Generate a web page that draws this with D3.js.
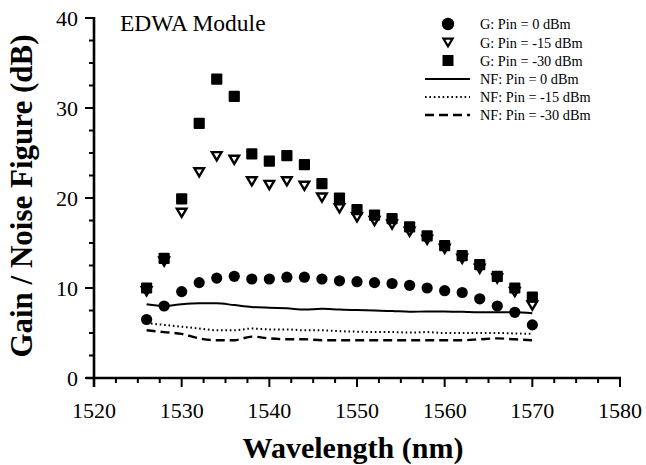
<!DOCTYPE html>
<html><head><meta charset="utf-8">
<script src="https://cdn.jsdelivr.net/npm/d3@7"></script>
<style>body{margin:0;background:#fff}svg{display:block}text{font-family:"Liberation Serif","Times New Roman",serif;fill:#000}</style>
</head><body>
<svg id="c" width="646" height="465"></svg>
<script>
const wavelengths = [1526,1528,1530,1532,1534,1536,1538,1540,1542,1544,1546,1548,1550,1552,1554,1556,1558,1560,1562,1564,1566,1568,1570];
const gain0   = [6.5,8.0,9.6,10.6,11.1,11.3,11.0,11.0,11.2,11.2,11.0,10.8,10.7,10.6,10.5,10.3,10.0,9.7,9.5,8.8,8.0,7.3,5.9];
const gain15  = [9.7,13.0,18.4,22.9,24.7,24.3,21.9,21.5,21.9,21.4,20.1,18.9,17.9,17.5,17.1,16.3,15.4,14.4,13.3,12.2,11.1,9.6,8.1];
const gain30  = [10.0,13.3,19.9,28.3,33.2,31.3,24.9,24.1,24.7,23.7,21.6,20.0,18.7,18.1,17.7,16.8,15.8,14.7,13.6,12.6,11.3,10.0,9.0];
const nf0     = [8.2,8.0,8.2,8.3,8.3,8.1,7.9,7.8,7.75,7.6,7.7,7.6,7.55,7.5,7.45,7.35,7.4,7.4,7.35,7.3,7.3,7.3,7.2];
const nf15    = [6.1,5.9,5.7,5.5,5.3,5.3,5.5,5.4,5.4,5.3,5.3,5.2,5.15,5.1,5.1,5.05,5.1,5.0,5.0,5.0,5.0,4.95,4.9];
const nf30    = [5.3,5.1,4.9,4.4,4.2,4.2,4.6,4.4,4.3,4.3,4.2,4.2,4.2,4.2,4.2,4.2,4.2,4.2,4.2,4.3,4.4,4.3,4.2];
const xTicks = [1520,1530,1540,1550,1560,1570,1580];
const yTicks = [0,10,20,30,40];
const legendLabels = ["G: Pin = 0 dBm","G: Pin = -15 dBm","G: Pin = -30 dBm","NF: Pin = 0 dBm","NF: Pin = -15 dBm","NF: Pin = -30 dBm"];

const svg = d3.select("#c");
const x = d3.scaleLinear().domain([1520,1580]).range([94,620]);
const y = d3.scaleLinear().domain([0,40]).range([378,18]);

// noise-figure lines
const line = d3.line().x((d,i)=>x(wavelengths[i])).y(d=>y(d)).curve(d3.curveMonotoneX);
svg.append("path").datum(nf0).attr("d",line).attr("fill","none").attr("stroke","#000").attr("stroke-width",2);
svg.append("path").datum(nf15).attr("d",line).attr("fill","none").attr("stroke","#000").attr("stroke-width",2).attr("stroke-dasharray","1.6,2.8");
svg.append("path").datum(nf30).attr("d",line).attr("fill","none").attr("stroke","#000").attr("stroke-width",2.4).attr("stroke-dasharray","9,5");

// gain markers
const tri = (cx,cy,s)=>`M${cx-s},${cy-s*0.75}L${cx+s},${cy-s*0.75}L${cx},${cy+s*0.95}Z`;
svg.append("g").selectAll("circle").data(gain0).join("circle")
  .attr("cx",(d,i)=>x(wavelengths[i])).attr("cy",d=>y(d)).attr("r",5.6).attr("fill","#000");
svg.append("g").selectAll("path").data(gain15).join("path")
  .attr("d",(d,i)=>tri(x(wavelengths[i]),y(d),4.8)).attr("fill","#fff").attr("stroke","#000").attr("stroke-width",2.4);
svg.append("g").selectAll("rect").data(gain30).join("rect")
  .attr("x",(d,i)=>x(wavelengths[i])-5.6).attr("y",d=>y(d)-5.6).attr("width",11.2).attr("height",11.2).attr("rx",1).attr("fill","#000");

// x axis
const ax = svg.append("g").attr("transform","translate(0,378)");
const minorX = d3.range(1520,1580.1,2.5);
ax.selectAll("line.t").data(minorX).join("line").attr("class","t").attr("x1",d=>x(d)).attr("x2",d=>x(d)).attr("y1",0)
  .attr("y2",d=>d%10===0?9:5).attr("stroke","#000").attr("stroke-width",2);
ax.append("line").attr("x1",86).attr("x2",621).attr("y1",0).attr("y2",0).attr("stroke","#000").attr("stroke-width",2.6);
ax.selectAll("text").data(xTicks).join("text").attr("x",d=>x(d)).attr("y",40).attr("text-anchor","middle")
  .attr("font-size",22).text(d=>d);

// y axis
const ay = svg.append("g");
const minorY = d3.range(0,40.1,2.5);
ay.selectAll("line.t").data(minorY).join("line").attr("class","t").attr("y1",d=>y(d)).attr("y2",d=>y(d)).attr("x2",94)
  .attr("x1",d=>d%10===0?85:89).attr("stroke","#000").attr("stroke-width",2);
ay.append("line").attr("x1",94).attr("x2",94).attr("y1",17).attr("y2",387).attr("stroke","#000").attr("stroke-width",2.6);
ay.selectAll("text").data(yTicks).join("text").attr("x",78).attr("y",d=>y(d)+7.5).attr("text-anchor","end")
  .attr("font-size",22).text(d=>d);

// titles
svg.append("text").attr("x",353).attr("y",458).attr("text-anchor","middle").attr("font-size",30).attr("font-weight","bold").text("Wavelength (nm)");
svg.append("text").attr("transform","translate(32,196) rotate(-90)").attr("text-anchor","middle").attr("font-size",31).attr("font-weight","bold").text("Gain / Noise Figure (dB)");
svg.append("text").attr("x",120).attr("y",31).attr("font-size",23.5).text("EDWA Module");

// legend
const lg = svg.append("g");
const rows = [24,42.5,60.5,79,97,115];
legendLabels.forEach((t,i)=>{
  lg.append("text").attr("x",480).attr("y",rows[i]+5).attr("font-size",14.3).text(t);
});
lg.append("circle").attr("cx",448).attr("cy",rows[0]).attr("r",6.2).attr("fill","#000");
lg.append("path").attr("d",tri(448,rows[1]-0.5,4.6)).attr("fill","#fff").attr("stroke","#000").attr("stroke-width",2.2);
lg.append("rect").attr("x",442.5).attr("y",rows[2]-5.5).attr("width",11).attr("height",11).attr("fill","#000");
lg.append("line").attr("x1",425).attr("x2",470).attr("y1",rows[3]).attr("y2",rows[3]).attr("stroke","#000").attr("stroke-width",2);
lg.append("line").attr("x1",425).attr("x2",470).attr("y1",rows[4]).attr("y2",rows[4]).attr("stroke","#000").attr("stroke-width",1.8).attr("stroke-dasharray","1.6,2.8");
lg.append("line").attr("x1",425).attr("x2",470).attr("y1",rows[5]).attr("y2",rows[5]).attr("stroke","#000").attr("stroke-width",2.4).attr("stroke-dasharray","9,5");
</script>
</body></html>
